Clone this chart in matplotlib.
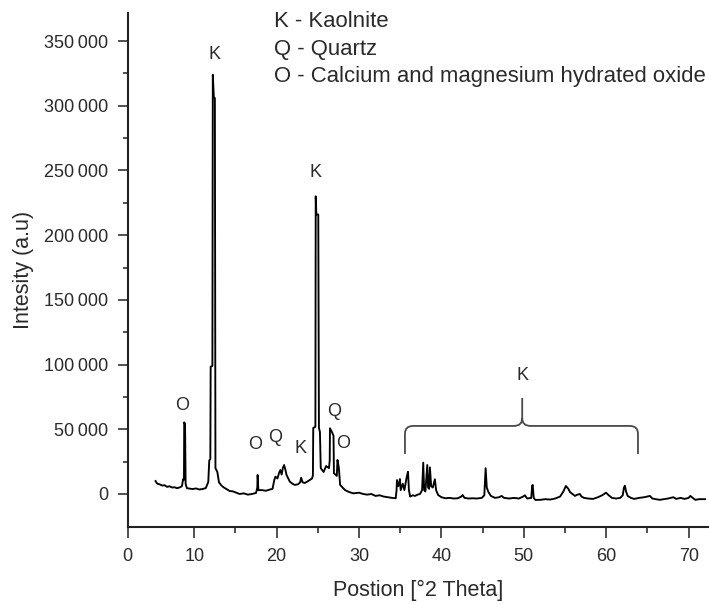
import numpy as np
import matplotlib
matplotlib.use("Agg")
import matplotlib.pyplot as plt
from matplotlib.path import Path
from matplotlib.patches import PathPatch
from matplotlib.ticker import FixedLocator, FuncFormatter

plt.rcParams['font.family'] = ['Liberation Sans', 'DejaVu Sans']

# XRD pattern (2 theta in degrees, intensity in counts)
two_theta = [
    5.3, 5.5, 5.8, 6.1, 6.4, 6.7, 7.0, 7.3, 7.6, 7.9, 8.2, 8.5, 8.65, 8.75,
    8.78, 8.88, 8.95, 9.1, 9.4, 9.8, 10.2, 10.6, 11.0, 11.4, 11.7, 11.82, 11.95,
    11.99, 12.2, 12.25, 12.38, 12.5, 12.57, 12.8, 13.0, 13.3, 13.6, 14.0, 14.3,
    14.7, 15.1, 15.5, 16.0, 16.5, 17.0, 17.5, 17.65, 17.69, 17.78, 18.2, 18.7,
    19.2, 19.5, 19.7, 19.85, 20.1, 20.3, 20.45, 20.6, 20.75, 20.9, 21.05, 21.2,
    21.4, 21.6, 21.9, 22.2, 22.6, 22.85, 22.97, 23.15, 23.4, 23.7, 24.0, 24.3,
    24.4, 24.44, 24.7, 24.74, 24.82, 25.05, 25.13, 25.25, 25.35, 25.7, 26.0,
    26.35, 26.44, 26.47, 26.7, 26.9, 26.95, 27.3, 27.38, 27.45, 27.55, 27.7,
    28.0, 28.3, 28.8, 29.3, 30.0, 30.5, 31.0, 31.5, 32.0, 32.5, 33.0, 33.5,
    34.0, 34.45, 34.55, 34.6, 34.75, 34.9, 34.96, 35.05, 35.3, 35.5, 35.75,
    35.85, 35.94, 36.05, 36.2, 36.5, 36.8, 37.1, 37.4, 37.65, 37.79, 37.9,
    38.05, 38.28, 38.38, 38.5, 38.6, 38.75, 38.95, 39.2, 39.35, 39.6, 40.0,
    40.5, 41.0, 41.5, 42.0, 42.4, 42.57, 42.8, 43.3, 43.8, 44.3, 44.9, 45.2,
    45.3, 45.36, 45.5, 45.7, 46.0, 46.5, 47.0, 47.3, 47.6, 48.2, 48.8, 49.4,
    49.9, 50.13, 50.4, 50.9, 51.0, 51.07, 51.2, 51.4, 52.0, 52.6, 53.2, 53.8,
    54.4, 54.8, 55.1, 55.4, 55.6, 55.9, 56.2, 56.5, 56.8, 57.0, 57.3, 57.8,
    58.4, 59.0, 59.5, 59.97, 60.3, 60.7, 61.2, 61.7, 62.0, 62.15, 62.27, 62.4,
    62.6, 63.0, 63.4, 64.0, 64.6, 65.3, 65.6, 66.0, 66.5, 67.0, 67.5, 68.13,
    68.5, 69.0, 69.5, 70.0, 70.2, 70.5, 70.8, 71.3, 71.99,
]
intensity = [
    10000, 8000, 7500, 6500, 6800, 5500, 6000, 5000, 5200, 4500, 5000, 6000,
    11500, 11000, 55400, 54000, 8000, 4500, 4200, 3800, 4300, 3500, 3800, 4600,
    9300, 26000, 27000, 98400, 99000, 324000, 306000, 306000, 20000, 17000,
    9000, 6500, 5000, 3500, 2300, 2000, 1000, 0, 500, -500, 0, 800, 5000,
    14700, 3000, 3000, 2500, 3500, 4000, 10500, 13400, 12000, 16500, 18500,
    15000, 20000, 22400, 19000, 14700, 12000, 9500, 8000, 7000, 7500, 9000,
    12600, 9000, 8500, 9500, 10800, 12000, 14700, 51000, 52000, 230000, 216000,
    216000, 51000, 48000, 20000, 17000, 21600, 20000, 26000, 50800, 48000,
    45000, 16000, 14000, 26300, 24000, 20000, 7000, 5000, 3000, 1500, 500, 1000,
    0, -500, 0, -1500, -1000, -2000, -2500, -3000, -3300, 3000, 10800, 6000,
    9000, 11600, 3000, 8000, 3000, 12000, 15000, 17200, 3000, -2000, -1000,
    -1500, -500, 0, 3000, 24200, 3000, 2000, 22400, 5000, 4000, 20600, 6000,
    5000, 11400, 3000, -800, -2500, -3300, -3000, -3500, -3300, -2000, -800,
    -3000, -3500, -3300, -3500, -3000, -1000, 12000, 19900, 5000, 1500, -1500,
    -3000, -2500, -1500, -3000, -3500, -3000, -3500, -2000, -1000, -3500,
    -3000, 6000, 7000, -3000, -4600, -4500, -4000, -4300, -3500, -2000, 2000,
    6200, 4000, 1500, 0, -1500, -500, 0, -2000, -3000, -3500, -3800, -2500,
    -1000, 1000, -1000, -3000, -3500, -3000, -1000, 5000, 6400, 2000, -1500,
    -3000, -3800, -3000, -2500, -1500, -3500, -4000, -4500, -4000, -3500,
    -2500, -3800, -3000, -3800, -3000, -1500, -3000, -4500, -4000, -4000,
]

# phase labels: (letter, 2 theta, intensity)
peak_labels = ['O', 'K', 'O', 'Q', 'K', 'K', 'Q', 'O']
peak_label_x = [8.51, 12.51, 17.37, 19.79, 22.95, 24.77, 26.95, 28.05]
peak_label_y = [68000, 339300, 38600, 43300, 35500, 248800, 64100, 39400]

# brace over the kaolinite group at high angle
brace_x0, brace_x1, brace_tip = 35.57, 63.85, 49.8
brace_bottom, brace_mid, brace_top = 30900, 52600, 74200
brace_label_y = 91200

legend_lines = ['K - Kaolnite', 'Q - Quartz', 'O - Calcium and magnesium hydrated oxide']

y_major = np.arange(0, 350001, 50000)
y_minor = np.arange(25000, 350001, 50000)
x_major = [10, 20, 30, 40, 50, 60, 70]
x_minor = [15, 25, 35, 45, 55, 65]
x_start = 1.92

text_color = '#2a2a2a'

fig = plt.figure(figsize=(7.09, 6.04), dpi=100)
ax = fig.add_axes([0.1801, 0.1275, 0.8199, 0.8515])

ax.plot(two_theta, intensity, color='black', lw=1.35)

ax.set_xlim(x_start, 72.47)
ax.set_ylim(-25500, 371950)

for s in ['top', 'right']:
    ax.spines[s].set_visible(False)
for s in ['left', 'bottom']:
    ax.spines[s].set_linewidth(1.5)
    ax.spines[s].set_color('#222222')

ax.xaxis.set_major_locator(FixedLocator([x_start] + x_major))
ax.set_xticklabels(['0'] + [str(v) for v in x_major])
ax.xaxis.set_minor_locator(FixedLocator(x_minor))
ax.yaxis.set_major_locator(FixedLocator(y_major))
ax.yaxis.set_minor_locator(FixedLocator(y_minor))
ax.yaxis.set_major_formatter(FuncFormatter(
    lambda v, p: '0' if v == 0 else f'{int(v) // 1000}\u2009{int(v) % 1000:03d}'))

ax.tick_params(axis='x', which='major', length=8, width=1.1, pad=7,
               labelsize=13, labelcolor=text_color, color='#222222')
ax.tick_params(axis='x', which='minor', length=4.5, width=1.1, color='#222222')
ax.tick_params(axis='y', which='major', length=7, width=1.1, pad=7,
               labelsize=13, labelcolor=text_color, color='#222222')
ax.tick_params(axis='y', which='minor', length=3.5, width=1.1, color='#222222')

ax.set_xlabel('Postion [°2 Theta]', fontsize=15.5, color=text_color, labelpad=11)
ax.set_ylabel('Intesity (a.u)', fontsize=15.5, color=text_color, labelpad=7)

for lab, lx, ly in zip(peak_labels, peak_label_x, peak_label_y):
    ax.text(lx, ly, lab, fontsize=13, color=text_color, ha='center', va='center')

# curly bracket
dx, dy = 1.0, 6000
verts = [
    (brace_x0, brace_bottom), (brace_x0, brace_mid - dy),
    (brace_x0, brace_mid), (brace_x0 + dx, brace_mid),
    (brace_tip - dx, brace_mid),
    (brace_tip, brace_mid), (brace_tip, brace_mid + dy),
    (brace_tip, brace_top),
    (brace_tip, brace_mid + dy),
    (brace_tip, brace_mid), (brace_tip + dx, brace_mid),
    (brace_x1 - dx, brace_mid),
    (brace_x1, brace_mid), (brace_x1, brace_mid - dy),
    (brace_x1, brace_bottom),
]
codes = [Path.MOVETO, Path.LINETO,
         Path.CURVE3, Path.CURVE3,
         Path.LINETO,
         Path.CURVE3, Path.CURVE3,
         Path.LINETO,
         Path.MOVETO,
         Path.CURVE3, Path.CURVE3,
         Path.LINETO,
         Path.CURVE3, Path.CURVE3,
         Path.LINETO]
ax.add_patch(PathPatch(Path(verts, codes), fill=False, edgecolor='#4a4a4a', lw=1.3))
ax.text(brace_tip, brace_label_y, 'K', fontsize=13, color=text_color,
        ha='center', va='center')

# key in the top right
for i, line in enumerate(legend_lines):
    fig.text(274 / 709, 1 - (27 + 27.5 * i) / 604, line, fontsize=15.9,
             color=text_color, ha='left', va='baseline')

fig.savefig('out.png', dpi=100)
